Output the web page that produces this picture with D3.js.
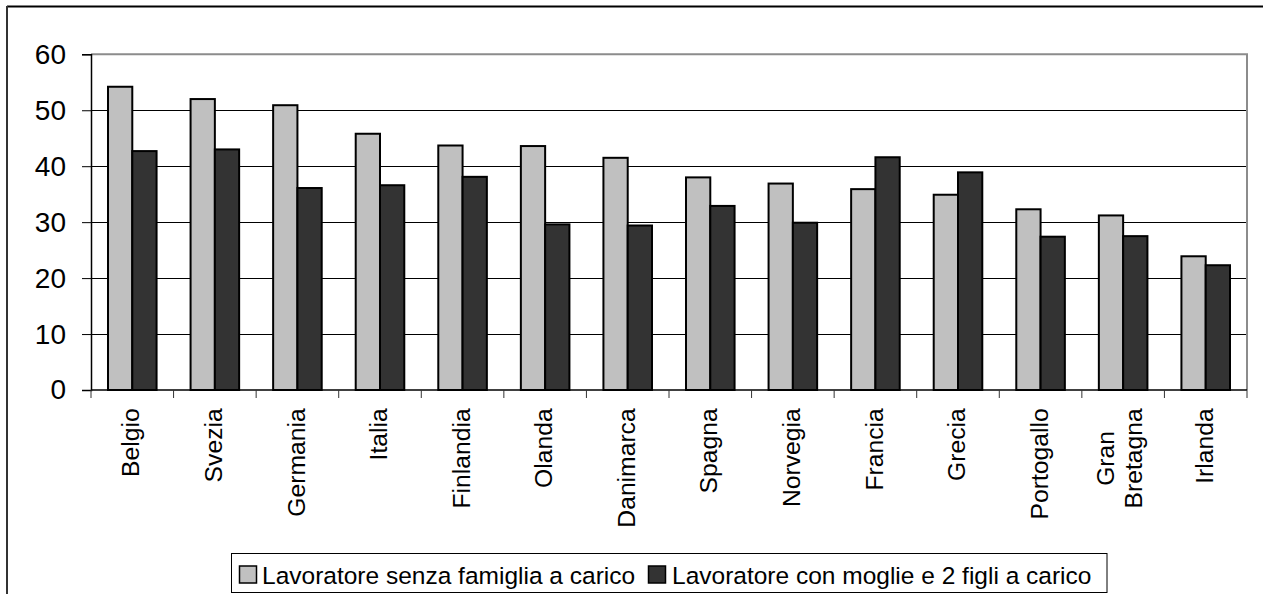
<!DOCTYPE html>
<html>
<head>
<meta charset="utf-8">
<script src="https://cdn.jsdelivr.net/npm/d3@7"></script>
<style>
  html, body { margin: 0; padding: 0; background: #fff; }
  svg { display: block; }
  text { font-family: "Liberation Sans", Arial, sans-serif; fill: #000; }
</style>
</head>
<body>
<svg id="chart" width="1263" height="594"></svg>
<script>
const categories = ["Belgio", "Svezia", "Germania", "Italia", "Finlandia", "Olanda", "Danimarca", "Spagna", "Norvegia", "Francia", "Grecia", "Portogallo", "Gran\nBretagna", "Irlanda"];
const seriesNames = ["Lavoratore senza famiglia a carico", "Lavoratore con moglie e 2 figli a carico"];
const senzaFamiglia = [54.2, 52.0, 50.9, 45.8, 43.7, 43.6, 41.5, 38.0, 36.9, 35.9, 34.9, 32.3, 31.2, 23.9];
const conFamiglia = [42.7, 43.0, 36.1, 36.6, 38.1, 29.6, 29.4, 32.9, 29.9, 41.6, 38.9, 27.4, 27.5, 22.3];
const yTicks = [0, 10, 20, 30, 40, 50, 60];
const seriesColors = ["#C0C0C0", "#333333"];

(function () {
const svg = d3.select("#chart");
const pLeft = 91, pRight = 1247, pTop = 54.3, pBottom = 390;

const x = d3.scaleBand().domain(categories).range([pLeft, pRight]).paddingInner(0).paddingOuter(0);
const bw = x.bandwidth();
const gapFrac = 0.35 / 1.7;
const x1 = d3.scaleBand().domain([0, 1]).range([bw * gapFrac, bw * (1 - gapFrac)]);
const y = d3.scaleLinear().domain([0, 60]).range([pBottom, pTop]);

// outer chart border (top & left)
svg.append("line").attr("x1", 7).attr("x2", 1263).attr("y1", 6.5).attr("y2", 6.5)
  .attr("stroke", "#000").attr("stroke-width", 2);
svg.append("line").attr("x1", 7).attr("x2", 7).attr("y1", 6).attr("y2", 594)
  .attr("stroke", "#333").attr("stroke-width", 2);

// gridlines
svg.append("g").selectAll("line").data(yTicks.filter(d => d > 0 && d < 60)).join("line")
  .attr("x1", pLeft).attr("x2", pRight)
  .attr("y1", d => Math.round(y(d)) + 0.5).attr("y2", d => Math.round(y(d)) + 0.5)
  .attr("stroke", "#000").attr("stroke-width", 1);

// plot area border top & right (gray)
svg.append("path")
  .attr("d", `M${pLeft},${pTop} H${pRight} V${pBottom}`)
  .attr("fill", "none").attr("stroke", "#8c8c8c").attr("stroke-width", 2);

// bars
const data = categories.map((c, i) => ({ c, v: [senzaFamiglia[i], conFamiglia[i]] }));
const groups = svg.append("g").selectAll("g").data(data).join("g")
  .attr("transform", d => `translate(${x(d.c)},0)`);
groups.selectAll("rect").data(d => d.v.map((v, k) => ({ v, k }))).join("rect")
  .attr("x", d => x1(d.k))
  .attr("width", x1.bandwidth())
  .attr("y", d => y(d.v))
  .attr("height", d => y(0) - y(d.v))
  .attr("fill", d => seriesColors[d.k])
  .attr("stroke", "#000").attr("stroke-width", 2);

// y axis
const yAxis = svg.append("g").attr("transform", `translate(${pLeft},0)`)
  .call(d3.axisLeft(y).tickValues(yTicks).tickSize(9).tickPadding(16).tickFormat(d3.format("d")));
yAxis.select(".domain").attr("stroke", "#000").attr("stroke-width", 1.5);
yAxis.selectAll(".tick line").attr("stroke", "#000");
yAxis.selectAll(".tick text").attr("font-size", 28).attr("font-family", "Liberation Sans, Arial, sans-serif").attr("fill", "#000");

// x axis line and ticks at band boundaries
svg.append("line").attr("x1", pLeft).attr("x2", pRight).attr("y1", pBottom).attr("y2", pBottom)
  .attr("stroke", "#000").attr("stroke-width", 1.5);
const boundaries = categories.map(c => x(c)).concat([pRight]);
svg.append("g").selectAll("line").data(boundaries).join("line")
  .attr("x1", d => d).attr("x2", d => d).attr("y1", pBottom).attr("y2", pBottom + 8)
  .attr("stroke", "#333").attr("stroke-width", 1);

// category labels (rotated)
const labelSize = 24.7, lineGap = 28, labelTop = 408.3;
categories.forEach(c => {
  const lines = c.split("\n");
  const cx = x(c) + bw / 2;
  const g = svg.append("g");
  const texts = lines.map((ln) => g.append("text")
    .attr("font-size", labelSize).attr("text-anchor", "middle").text(ln));
  const maxLen = d3.max(texts, t => t.node().getComputedTextLength());
  const n = lines.length;
  texts.forEach((t, i) => {
    const off = (i - (n - 1) / 2) * lineGap - (n - 1) * 2;
    const bx = cx + off + labelSize * 0.29;
    const by = labelTop + maxLen / 2;
    t.attr("transform", `translate(${bx},${by}) rotate(-90)`);
  });
});

// legend
const lg = svg.append("g");
lg.append("rect").attr("x", 231.5).attr("y", 553.5).attr("width", 875.5).attr("height", 39)
  .attr("fill", "#fff").attr("stroke", "#000").attr("stroke-width", 1);
const legendItems = [{ sx: 239.5, tx: 262 }, { sx: 648.5, tx: 672 }];
seriesNames.forEach((name, k) => {
  lg.append("rect").attr("x", legendItems[k].sx).attr("y", 566).attr("width", 17).attr("height", 17)
    .attr("fill", seriesColors[k]).attr("stroke", "#000").attr("stroke-width", 1.5);
  lg.append("text").attr("x", legendItems[k].tx).attr("y", 583.5)
    .attr("font-size", 24.5).text(name);
});
})();
</script>
</body>
</html>
